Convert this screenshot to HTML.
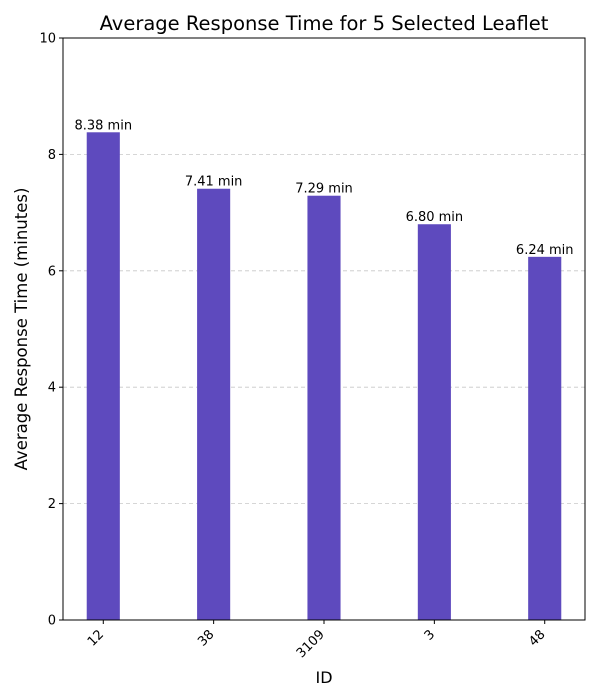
<!DOCTYPE html>
<html><head><meta charset="utf-8">
<style>body{margin:0;background:#fff}svg{display:block;font-family:"DejaVu Sans","Liberation Sans",sans-serif}</style>
</head><body>
<svg id="chart" width="600" height="700" viewBox="0 0 600 700">
<text x="324" y="30" font-size="19.5" text-anchor="middle">Average Response Time for 5 Selected Leaflet</text>
<text x="324" y="683" font-size="16" text-anchor="middle">ID</text>
<text transform="translate(27,329) rotate(-90)" font-size="16.5" text-anchor="middle">Average Response Time (minutes)</text>
<g id="grid"></g><g id="bars"></g><g id="axes"></g>
</svg>
<script>
const categories = ["12","38","3109","3","48"];
const values = [8.38,7.41,7.29,6.80,6.24];
const yTicks = [0,2,4,6,8,10];
const L=63,R=585,T=38,B=620,NS="http://www.w3.org/2000/svg";
const xMin=-0.365,xMax=categories.length-1+0.365,yMax=10,bw=0.3;
const xs=i=>L+(i-xMin)/(xMax-xMin)*(R-L);
const ys=v=>B-v/yMax*(B-T);
function mk(tag,a,p){const e=document.createElementNS(NS,tag);for(const k in a)e.setAttribute(k,a[k]);p.appendChild(e);return e;}
const g=document.getElementById('grid'),b=document.getElementById('bars'),ax=document.getElementById('axes');
yTicks.forEach(t=>{
  if(t>0&&t<yMax){const l=mk('line',{x1:L,x2:R,y1:ys(t),y2:ys(t),stroke:'#c8c8c8','stroke-dasharray':'4,3','stroke-width':0.8},g);
  
  }
  const tk=mk('line',{x1:L-4,x2:L,y1:ys(t),y2:ys(t),stroke:'#000'},ax);
  
  
  const tx=mk('text',{x:L-7,y:ys(t)+4.5,'font-size':13,'text-anchor':'end'},ax);tx.textContent=t;
  
  
});
const pxw=bw/(xMax-xMin)*(R-L);
categories.forEach((c,i)=>{
  const cx=xs(i);
  const r=mk('rect',{x:cx-pxw/2,y:ys(values[i]),width:pxw,height:B-ys(values[i]),fill:'#5e4abe'},b);
  
  
  const lb=mk('text',{x:cx,y:ys(values[i])-3,'font-size':13,'text-anchor':'middle'},b);lb.textContent=values[i].toFixed(2)+' min';
  
  
  const tk=mk('line',{x1:cx,x2:cx,y1:B,y2:B+4,stroke:'#000'},ax);
  
  
  const tx=mk('text',{transform:`translate(${cx+1},${B+15}) rotate(-45)`,'font-size':13,'text-anchor':'end'},ax);tx.textContent=c;
  
  
});
const fr=mk('rect',{x:L,y:T,width:R-L,height:B-T,fill:'none',stroke:'#000','stroke-width':1},ax);


</script>
</body></html>
